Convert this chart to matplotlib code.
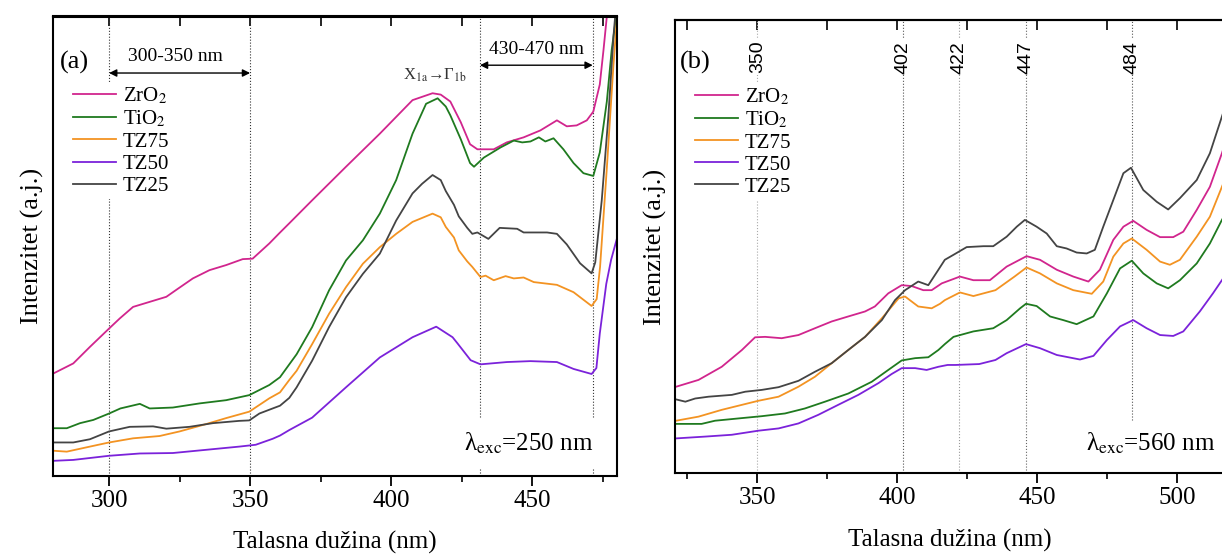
import matplotlib
matplotlib.use('Agg')
import matplotlib.pyplot as plt
from matplotlib.ticker import MultipleLocator, NullLocator
from matplotlib.lines import Line2D

plt.rcParams['font.family'] = ['Liberation Serif', 'DejaVu Serif']
plt.rcParams['mathtext.fontset'] = 'stix'

# ---------------- data: panel (a), lambda_exc = 250 nm ----------------
a_zro2_x = [280.2, 287.3, 293.2, 300, 303.8, 308.5, 314.4, 320.3, 323.8, 329.7, 335.6, 341.5, 347.4,
            350.9, 356.8, 360.3, 363.9, 372, 384, 396, 407.6, 414.7, 417.6, 421, 424.7, 428, 430.6,
            436.4, 441, 447, 452.9, 458.8, 462.3, 465.8, 469.4, 471.7, 474, 475.3, 476.5, 477.5]
a_zro2_y = [22.3, 24.5, 28.1, 32.1, 34.3, 36.8, 37.9, 39.0, 40.5, 43.0, 44.8, 45.9, 47.2,
            47.3, 50.6, 52.8, 55.0, 60.0, 67.3, 74.5, 81.8, 83.3, 83.0, 81.5, 77.0, 72.2, 71.1,
            71.1, 72.6, 73.7, 75.2, 77.4, 76.1, 76.3, 77.4, 79.3, 85.2, 92.6, 100.0, 106.0]

a_tio2_x = [280.2, 285, 289.7, 294.4, 300, 304, 310.9, 314.4, 322.6, 332.1, 341.5, 349.7, 356.8,
            360.6, 366.5, 372, 378, 384, 390, 396, 401.8, 407.6, 412.4, 416.5, 419.4, 421, 424.7,
            428, 429.4, 432.9, 438.8, 443.5, 446.5, 449.4, 452.4, 454.7, 457.6, 461.1, 464.7,
            468.2, 471.7, 474, 476.5, 478.2, 479.8, 480.5]
a_tio2_y = [10.4, 10.4, 11.5, 12.2, 13.6, 14.7, 15.7, 14.7, 14.9, 15.8, 16.5, 17.6, 19.8,
            21.5, 26.5, 32.4, 40.4, 46.9, 51.3, 57.1, 64.4, 74.5, 81.0, 82.2, 80.4, 78.5, 73.3,
            68.1, 67.3, 69.3, 71.5, 73.0, 72.6, 72.8, 73.7, 72.8, 73.5, 71.1, 68.1,
            65.9, 65.3, 70.4, 81.5, 92.6, 100.0, 105.0]

a_tz75_x = [280.2, 285, 293.2, 300, 308.5, 317.9, 325, 334.4, 341.5, 349.7, 356.8, 360.6, 363.9,
            366.5, 372, 378, 384, 390, 396, 401.8, 407.6, 414.7, 417.6, 419.4, 422.3, 424, 427,
            428.8, 431.7, 433.5, 436.4, 440.6, 443.5, 447, 450.6, 458.8, 464.7, 471.1, 472.9,
            474.1, 476.5, 478.8, 480]
a_tz75_y = [5.5, 5.3, 6.4, 7.3, 8.2, 8.7, 9.7, 11.3, 12.6, 14.0, 16.9, 18.2, 20.9,
            22.9, 28.7, 35.3, 41.1, 46.2, 49.8, 52.7, 55.3, 57.1, 56.3, 54.2, 51.9, 49.1, 46.7,
            45.5, 43.3, 43.6, 42.6, 43.5, 43.0, 43.2, 42.2, 41.6, 40.0, 37.0, 38.5,
            45.5, 67.0, 89.0, 99.0]

a_tz50_x = [280.2, 287.3, 300, 310.9, 322.6, 334.4, 346.2, 352, 358, 360.6, 363.9, 372, 384, 396,
            407.6, 416, 421.8, 423.5, 428.2, 431.7, 441.1, 449.4, 458.8, 464.7, 471.1, 472.8,
            474, 476.3, 478, 480]
a_tz50_y = [3.3, 3.5, 4.4, 4.9, 5.0, 5.7, 6.4, 6.8, 8.1, 8.8, 10.0, 12.7, 19.3, 25.8,
            30.2, 32.5, 30.2, 28.9, 25.2, 24.3, 24.8, 25.0, 24.8, 23.3, 22.2, 23.5,
            31.0, 41.8, 47.0, 51.5]

a_tz25_x = [280.2, 287.3, 293.2, 300, 307.3, 315.6, 320.3, 328.5, 336.8, 346.2, 349.7, 353.3, 358,
            360.6, 363.9, 366.5, 372, 378, 384, 390, 396, 401.8, 407.6, 411, 414.7, 417.6, 419.4,
            422.3, 424, 427, 428.8, 430.6, 434.5, 438.5, 444.7, 447, 450.6, 455.3, 458.8, 462.3,
            467, 471.1, 472.4, 474.7, 477, 478.9, 480]
a_tz25_y = [7.3, 7.3, 8.0, 9.7, 10.7, 10.8, 10.3, 10.7, 11.5, 12.0, 12.1, 13.6, 14.7,
            15.3, 17.0, 19.3, 25.1, 32.4, 38.9, 44.0, 48.4, 55.6, 61.5, 63.6, 65.5, 64.4, 62.0,
            59.0, 56.5, 54.0, 52.7, 53.0, 51.6, 54.0, 53.8, 53.0, 53.0, 53.0, 52.7, 50.4,
            46.3, 44.1, 46.5, 60.0, 78.0, 96.0, 104.0]

# ---------------- data: panel (b), lambda_exc = 560 nm ----------------
b_zro2_x = [321, 329, 337.3, 344.5, 349.2, 352.8, 358.7, 364.7, 370.6, 376.6, 382.5, 388.5, 392,
            396.8, 401.6, 405.2, 409.3, 412.3, 415.9, 422.4, 427.2, 433.1, 439.1, 446.2, 451, 457,
            462.9, 468.3, 472.4, 477.2, 480.8, 484.3, 489.1, 493.9, 498.6, 502.2, 507, 511.7,
            516, 517.5]
b_zro2_y = [19.1, 20.6, 23.5, 27.2, 30.0, 30.1, 29.8, 30.5, 32.0, 33.5, 34.6, 35.7, 36.8,
            39.7, 41.5, 41.3, 40.4, 40.4, 41.9, 43.4, 42.6, 42.6, 45.6, 47.9, 47.1, 44.9,
            43.4, 42.3, 44.9, 51.5, 54.4, 55.7, 53.7, 52.1, 52.1, 53.3, 58.1, 63.2,
            70.6, 73.5]

b_tio2_x = [321, 330.1, 334.9, 343.2, 351.6, 359.9, 367, 374.2, 382.5, 390.9, 396.8, 401.6, 406.4,
            411.1, 414.7, 417, 420.1, 427.2, 434.3, 439.1, 443.9, 446, 449.8, 454.6, 459.3,
            464.1, 470.1, 474.9, 479.6, 483.8, 487.9, 492.7, 496.8, 501, 507, 511.7, 516, 517.5]
b_tio2_y = [10.9, 10.9, 11.6, 12.1, 12.6, 13.2, 14.3, 15.8, 17.6, 20.2, 22.8, 24.9, 25.4,
            25.6, 27.2, 28.5, 30.1, 31.3, 32.0, 33.8, 36.4, 37.4, 36.9, 34.6, 33.8,
            32.9, 34.6, 39.7, 45.2, 46.9, 44.1, 41.9, 40.8, 42.6, 46.3, 50.7, 55.9, 57.5]

b_tz75_x = [321, 329, 337.3, 344.5, 350.4, 357.6, 364.7, 370.6, 376.6, 382.5, 388.5, 394.5, 400.5,
            402.8, 407.5, 412.3, 415.3, 417, 422.4, 427.2, 435.1, 441.9, 446.2, 451, 457, 462.9,
            469.5, 473.6, 477.2, 480.8, 483.8, 489.1, 493.9, 497.4, 501, 507, 511.7, 516, 517.5]
b_tz75_y = [11.6, 12.5, 14.0, 15.1, 16.0, 16.9, 19.1, 21.3, 24.3, 27.2, 30.1, 34.2, 38.6,
            39.0, 36.8, 36.4, 37.4, 38.2, 39.9, 39.1, 40.4, 43.4, 45.4, 44.1, 41.9, 40.4,
            39.6, 42.3, 47.8, 50.7, 51.8, 49.3, 46.7, 46.0, 47.1, 52.2, 56.6, 63.2, 65.5]

b_tz50_x = [321, 331.4, 340.9, 350.4, 357.6, 364.7, 371.8, 378.9, 386.1, 393.3, 398, 401.6, 406.4,
            410.5, 414.7, 418, 420.8, 429.3, 435.1, 439.1, 446, 451, 457, 465.3, 470.1, 474.9,
            479.6, 484.3, 489.1, 493.9, 498.6, 502.2, 508.1, 512.8, 516, 517.5]
b_tz50_y = [7.7, 8.1, 8.5, 9.4, 9.9, 11.0, 12.9, 15.1, 17.3, 19.9, 21.9, 23.2, 23.2,
            22.8, 23.5, 23.9, 23.9, 24.1, 25.0, 26.5, 28.5, 27.6, 26.1, 25.1, 25.9, 29.4,
            32.4, 33.8, 32.0, 30.5, 30.3, 31.3, 35.7, 39.7, 42.6, 44.0]

b_tz25_x = [321, 324.3, 327.8, 332.6, 340.9, 345.7, 351.6, 357.6, 364.7, 370.6, 376.6, 382.5, 388.5,
            394.5, 399.2, 402.8, 407.5, 411.1, 414.7, 417, 420.1, 424.8, 430.8, 434.3, 439.1,
            442.7, 445.6, 449.8, 453.4, 457, 460.5, 464.1, 467.7, 470.6, 473.6, 477.2, 480.8,
            483.5, 487.9, 492.7, 496.8, 501, 507, 511.7, 516, 517.5]
b_tz25_y = [16.3, 15.8, 16.5, 16.9, 17.3, 18.0, 18.4, 19.0, 20.4, 22.4, 24.3, 27.2, 30.1,
            33.8, 38.2, 40.4, 42.3, 41.5, 44.9, 47.1, 48.2, 49.9, 50.1, 50.1, 52.2,
            54.4, 55.9, 54.4, 52.9, 50.1, 49.6, 48.7, 48.5, 49.3, 54.4, 60.3, 66.2,
            67.4, 62.5, 59.9, 58.2, 60.7, 64.7, 70.6, 78.7, 81.5]

labels = ['ZrO$_2$', 'TiO$_2$', 'TZ75', 'TZ50', 'TZ25']
colors = ['#D1258D', '#1F7A1F', '#F39322', '#7B22DA', '#444444']

series_a = [(a_zro2_x, a_zro2_y), (a_tio2_x, a_tio2_y), (a_tz75_x, a_tz75_y),
            (a_tz50_x, a_tz50_y), (a_tz25_x, a_tz25_y)]
series_b = [(b_zro2_x, b_zro2_y), (b_tio2_x, b_tio2_y), (b_tz75_x, b_tz75_y),
            (b_tz50_x, b_tz50_y), (b_tz25_x, b_tz25_y)]

xlim_a = (280, 480)
xlim_b = (320.6, 517.1)
range_a = (300, 350)
range_a2 = (431.5, 471.5)
marks_a = [300, 350, 431.5, 471.5]
peak_labels_b = ['350', '402', '422', '447', '484']
peak_pos_b = [350, 402, 422, 446, 484]
peak_col_b = ['#AAAAAA', '#555555', '#999999', '#666666', '#555555']

# ---------------- figure ----------------
W, H = 1222, 557
fig = plt.figure(figsize=(W / 100, H / 100), dpi=100)


def rect(l, r, b, t):
    return [l / W, 1 - b / H, (r - l) / W, (b - t) / H]


ax1 = fig.add_axes(rect(52.7, 616.7, 476, 16.5))
ax2 = fig.add_axes(rect(675, 1225, 473.3, 20))


def style(ax, xlim):
    ax.set_xlim(*xlim)
    ax.set_ylim(0, 100)
    ax.yaxis.set_major_locator(NullLocator())
    ax.xaxis.set_major_locator(MultipleLocator(50))
    ax.xaxis.set_minor_locator(MultipleLocator(25))
    ax.tick_params(axis='x', which='major', direction='out', length=7, width=1.3,
                   labelsize=18, pad=3, top=False)
    ax.tick_params(axis='x', which='minor', direction='out', length=4, width=1.2, top=False)
    for s in ax.spines.values():
        s.set_linewidth(1.5)
    sec = ax.secondary_xaxis('top')
    sec.xaxis.set_major_locator(MultipleLocator(50))
    sec.xaxis.set_minor_locator(MultipleLocator(25))
    sec.tick_params(axis='x', which='both', direction='in', length=7, width=1.2, labeltop=False)
    sec.spines['top'].set_linewidth(1.5)
    ax.set_xlabel('Talasna dužina (nm)', fontsize=18, labelpad=14)
    ax.set_ylabel('Intenzitet (a.j.)', fontsize=19, labelpad=6)


style(ax1, xlim_a)
style(ax2, xlim_b)

for (x, y), c, lab in zip(series_a, colors, labels):
    ax1.plot(x, y, color=c, lw=1.3, label=lab)
for (x, y), c, lab in zip(series_b, colors, labels):
    ax2.plot(x, y, color=c, lw=1.3, label=lab)

# dotted markers, panel a
ax1.axvline(marks_a[0], 0, 1, ls=':', color='#333333', lw=0.8, zorder=1)
ax1.axvline(marks_a[1], 0, 1, ls=':', color='#333333', lw=0.8, zorder=1)
for m in marks_a[2:]:
    ax1.axvline(m, 0.128, 1, ls=':', color='#333333', lw=0.8, zorder=1)
    ax1.axvline(m, 0, 0.018, ls=':', color='#333333', lw=0.8, zorder=1)

# dotted markers, panel b
for p, lab, c in zip(peak_pos_b, peak_labels_b, peak_col_b):
    if lab == '484':
        ax2.axvline(p, 0.118, 1, ls=':', color=c, lw=0.8, zorder=1)
    else:
        ax2.axvline(p, 0, 1, ls=':', color=c, lw=0.8, zorder=1)
    ax2.text(p, 0.918, lab, transform=ax2.get_xaxis_transform(), rotation=90,
             ha='center', va='center', fontsize=14, family=['Liberation Sans'],
             bbox=dict(facecolor='white', edgecolor='none', pad=1), zorder=4)

# range arrows, panel a
arrow = dict(arrowstyle='<|-|>', color='black', lw=1.0, mutation_scale=11, shrinkA=0, shrinkB=0)
ax1.annotate('', xy=(range_a[1], 0.877), xytext=(range_a[0], 0.877),
             xycoords=('data', 'axes fraction'), textcoords=('data', 'axes fraction'),
             arrowprops=arrow)
ax1.text(323.5, 0.912, '300-350 nm', transform=ax1.get_xaxis_transform(),
         ha='center', va='center', fontsize=14)
ax1.annotate('', xy=(range_a2[1], 0.894), xytext=(range_a2[0], 0.894),
             xycoords=('data', 'axes fraction'), textcoords=('data', 'axes fraction'),
             arrowprops=arrow)
ax1.text(451.5, 0.928, '430-470 nm', transform=ax1.get_xaxis_transform(),
         ha='center', va='center', fontsize=14)
ax1.text(415.4, 0.873, 'X$_{\\rm 1a}$→Γ$_{\\rm 1b}$', transform=ax1.get_xaxis_transform(),
         ha='center', va='center', fontsize=12, color='#333333')

# panel tags and excitation labels
ax1.text(0.038, 0.901, '(a)', transform=ax1.transAxes, ha='center', va='center', fontsize=19)
ax2.text(0.036, 0.907, '(b)', transform=ax2.transAxes, ha='center', va='center', fontsize=19)
ax1.text(0.958, 0.072, 'λ$_{\\rm exc}$=250 nm', transform=ax1.transAxes,
         ha='right', va='center', fontsize=18)
ax2.text(0.982, 0.067, 'λ$_{\\rm exc}$=560 nm', transform=ax2.transAxes,
         ha='right', va='center', fontsize=18)

# legends
for ax, anchor in ((ax1, (0.030, 0.856)), (ax2, (0.030, 0.860))):
    handles = [Line2D([], [], color=c, lw=1.3) for c in colors]
    leg = ax.legend(handles, labels, loc='upper left', bbox_to_anchor=anchor,
                    frameon=True, facecolor='white', edgecolor='none', framealpha=1,
                    fontsize=15, handlelength=2.1, handletextpad=0.3, labelspacing=0.12,
                    borderpad=0.15, borderaxespad=0)
    leg.set_zorder(3)

fig.savefig('out.png', dpi=100)
